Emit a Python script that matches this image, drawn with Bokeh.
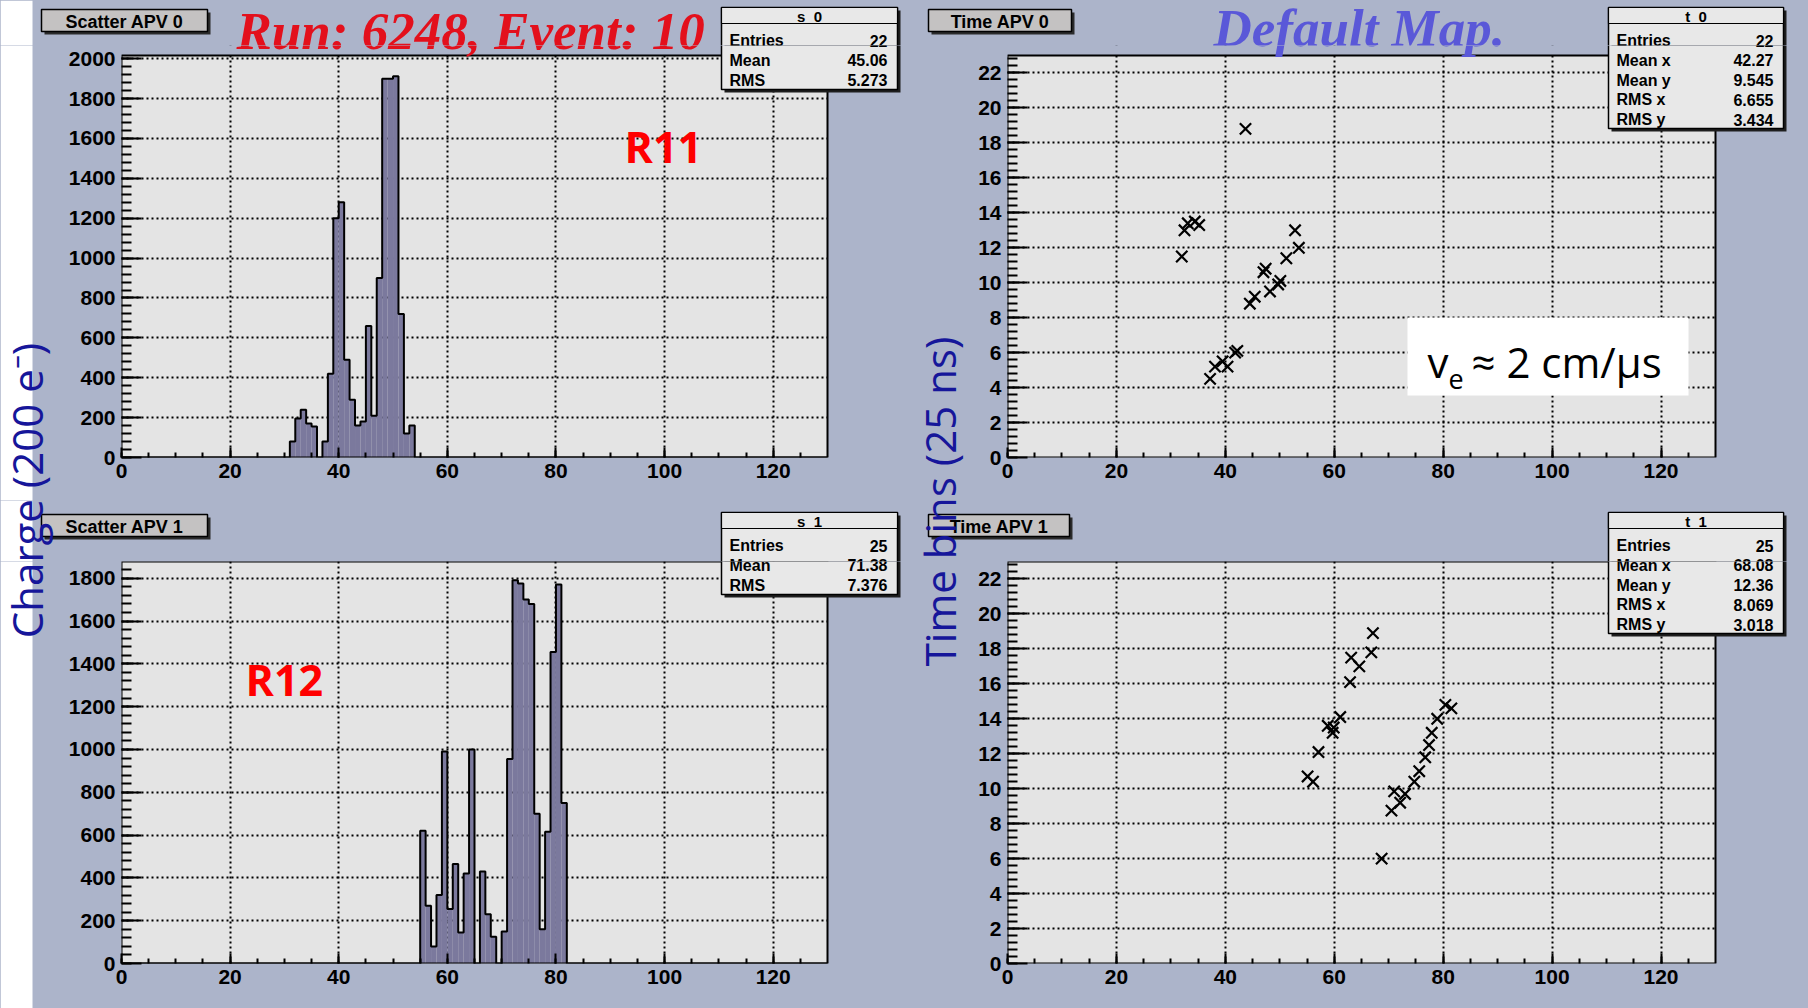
import math
from bokeh.plotting import figure
from bokeh.models import BoxAnnotation, Label, Range1d, FixedTicker
from bokeh.layouts import column, row
from bokeh.embed import file_html
from bokeh.resources import INLINE

# ---------------- data ----------------
s0_channels = [31, 32, 33, 34, 35, 37, 38, 39, 40, 41, 42, 43, 44, 45, 46, 47, 48, 49, 50, 51, 52, 53]
s0_charge = [80, 195, 240, 170, 155, 80, 420, 1200, 1280, 490, 290, 160, 180, 660, 210, 900, 1900, 1900, 1912, 720, 120, 160]

s1_channels = [55, 56, 57, 58, 59, 60, 61, 62, 63, 64, 66, 67, 68, 70, 71, 72, 73, 74, 75, 76, 77, 78, 79, 80, 81]
s1_charge = [620, 270, 80, 320, 990, 255, 465, 145, 420, 1000, 430, 230, 125, 150, 955, 1790, 1775, 1700, 1680, 700, 160, 615, 1455, 1770, 750]

t0_x = [32.0, 32.5, 33.1, 34.4, 35.2, 37.2, 38.1, 39.5, 40.4, 41.8, 42.2, 44.5, 45.4, 47.0, 47.4, 48.2, 49.7, 50.1, 51.2, 52.8, 53.5, 43.7]
t0_y = [11.5, 13.0, 13.4, 13.5, 13.3, 4.5, 5.2, 5.5, 5.2, 6.0, 6.1, 8.8, 9.2, 10.6, 10.8, 9.5, 9.9, 10.1, 11.4, 13.0, 12.0, 18.8]

t1_x = [67.1, 66.8, 63.1, 64.6, 62.9, 61.1, 58.8, 59.9, 59.7, 57.1, 55.1, 56.1, 68.7, 70.5, 71.0, 72.1, 73.0, 74.7, 75.6, 76.7, 77.4, 77.9, 78.9, 80.4, 81.5]
t1_y = [18.9, 17.8, 17.5, 17.0, 16.1, 14.1, 13.6, 13.5, 13.2, 12.1, 10.7, 10.4, 6.0, 8.75, 9.85, 9.2, 9.7, 10.4, 11.0, 11.8, 12.5, 13.2, 14.0, 14.8, 14.6]

n_channels = 130
s0_ymax = 2016
s1_ymax = 1878
time_ymax = 23.0

x_ticks = [0, 20, 40, 60, 80, 100, 120]
s0_y_ticks = [0, 200, 400, 600, 800, 1000, 1200, 1400, 1600, 1800, 2000]
s1_y_ticks = [0, 200, 400, 600, 800, 1000, 1200, 1400, 1600, 1800]
time_y_ticks = [0, 2, 4, 6, 8, 10, 12, 14, 16, 18, 20, 22]

s0_names = ["Entries", "Mean", "RMS"]
s0_values = ["22", "45.06", "5.273"]
s1_names = ["Entries", "Mean", "RMS"]
s1_values = ["25", "71.38", "7.376"]
t0_names = ["Entries", "Mean x", "Mean y", "RMS x", "RMS y"]
t0_values = ["22", "42.27", "9.545", "6.655", "3.434"]
t1_names = ["Entries", "Mean x", "Mean y", "RMS x", "RMS y"]
t1_values = ["25", "68.08", "12.36", "8.069", "3.018"]

# ---------------- style ----------------
PAD_BG = "#acb4ca"
FRAME_BG = "#e4e4e4"
HIST_FILL = "#7b799d"
STAT_BG = "#e8e8e8"
TITLE_BG = "#c4c2c2"
NAVY = "#16169a"
TICK_FONT = "Liberation Sans"

# ---------------- overlay operations (page pixel coordinates) ----------------
OPS = []


def ov_box(x0, y0, x1, y1, fill=None, line=None, lw=0):
    OPS.append(dict(kind="box", x0=x0, y0=y0, x1=x1, y1=y1, fill=fill, line=line, lw=lw,
                    bb=(x0 - lw - 1, y0 - lw - 1, x1 + lw + 1, y1 + lw + 1)))


def ov_text(x, y, text, size, color="black", font=TICK_FONT, style="normal",
            align="left", angle=0.0):
    # y is the vertical middle of the text
    ext = size * (len(text) * 0.7 + 1)
    OPS.append(dict(kind="text", x=x, y=y, text=text, size=size, color=color, font=font,
                    style=style, align=align, angle=angle,
                    bb=(x - ext, y - ext, x + ext, y + ext)))


def ov_text_base(x, y_base, text, size, **kw):
    ov_text(x, y_base - 0.3 * size, text, size, **kw)


def ov_title_box(x0, y0, x1, y1, text):
    ov_box(x0 + 3, y0 + 3, x1 + 3, y1 + 3, "#2b2b2b")
    ov_box(x0, y0, x1, y1, TITLE_BG, "black", 1.5)
    ov_text((x0 + x1) / 2, (y0 + y1) / 2 + 1, text, 18, style="bold", align="center")


def ov_stat_box(x0, y0, x1, y1, title, names, values):
    ov_box(x0 + 3, y0 + 3, x1 + 3, y1 + 3, "#1e1e1e")
    ov_box(x0, y0, x1, y1, STAT_BG, "black", 1.5)
    ov_box(x0, y0, x1, y0 + 16, STAT_BG, "black", 1.2)
    ov_text((x0 + x1) / 2, y0 + 9, title, 15, style="bold", align="center")
    for i, (n, v) in enumerate(zip(names, values)):
        yy = y0 + 33 + i * 19.8
        ov_text(x0 + 8, yy, n, 16, style="bold")
        ov_text(x1 - 10, yy, v, 16, style="bold", align="right")


def apply_ops(p, fl, fb, rect):
    rx0, ry0, rx1, ry1 = rect
    for o in OPS:
        bx0, by0, bx1, by1 = o["bb"]
        if bx1 < rx0 or bx0 > rx1 or by1 < ry0 or by0 > ry1:
            continue
        if o["kind"] == "box":
            p.add_layout(BoxAnnotation(
                left=o["x0"] - fl, right=o["x1"] - fl, top=fb - o["y0"], bottom=fb - o["y1"],
                left_units="screen", right_units="screen", top_units="screen", bottom_units="screen",
                fill_color=o["fill"] or "white", fill_alpha=1.0 if o["fill"] else 0.0,
                line_color=o["line"] or "black", line_alpha=1.0 if o["line"] else 0.0,
                line_width=o["lw"]))
        else:
            p.add_layout(Label(
                x=o["x"] - fl, y=fb - o["y"], x_units="screen", y_units="screen", text=o["text"],
                text_font_size=f'{o["size"]}px', text_color=o["color"], text_font=o["font"],
                text_font_style=o["style"], text_align=o["align"], text_baseline="middle",
                angle=o["angle"]))


# ---------------- figure builders ----------------
ALL = []  # (figure, frame_left, frame_bottom, frame_rect) in page px


def overlay_fig(x0, y0, x1, y1):
    p = figure(width=x1 - x0, height=y1 - y0, min_border=0,
               x_axis_location=None, y_axis_location=None,
               x_range=Range1d(0, 1), y_range=Range1d(0, 1),
               toolbar_location=None, output_backend="svg",
               background_fill_color=PAD_BG, border_fill_color=PAD_BG, outline_line_color=None)
    p.grid.visible = False
    ALL.append((p, x0, y1, (x0, y0, x1, y1)))
    return p


def main_fig(x0, y0, x1, y1, fl, ft_real, fr_real, fb, ymax, y_ticks, y_minor_step, fig_top):
    kx = (fr_real - fl) / n_channels
    ky = (fb - ft_real) / ymax
    p = figure(frame_width=x1 - fl, frame_height=fb - fig_top,
               min_border_left=fl - x0, min_border_right=0,
               min_border_top=fig_top - y0, min_border_bottom=y1 - fb,
               x_range=Range1d(0, (x1 - fl) / kx), y_range=Range1d(0, (fb - fig_top) / ky),
               toolbar_location=None, output_backend="svg",
               background_fill_color=PAD_BG, border_fill_color=PAD_BG, outline_line_color=None)
    x_minor = [v * 5 for v in range(0, 26)]
    y_minor = [v * y_minor_step for v in range(0, int(ymax / y_minor_step) + 1)]
    p.xaxis.ticker = FixedTicker(ticks=x_ticks, minor_ticks=x_minor)
    p.yaxis.ticker = FixedTicker(ticks=y_ticks, minor_ticks=y_minor)
    for ax, tin in ((p.xaxis, 10), (p.yaxis, 20)):
        ax.major_tick_in = tin
        ax.major_tick_out = 0
        ax.minor_tick_in = tin // 2
        ax.minor_tick_out = 0
        ax.major_tick_line_width = 2
        ax.minor_tick_line_width = 2
        ax.axis_line_color = None
        ax.major_tick_line_color = "black"
        ax.minor_tick_line_color = "black"
        ax.major_label_text_font = TICK_FONT
        ax.major_label_text_font_size = "21px"
        ax.major_label_text_font_style = "bold"
        ax.major_label_text_color = "black"
        ax.major_label_standoff = 6
    for gr in (p.xgrid, p.ygrid):
        gr.grid_line_color = "black"
        gr.grid_line_dash = "2 3"
        gr.grid_line_width = 2
    # real frame fill (below grid)
    p.add_layout(BoxAnnotation(left=0, right=n_channels, bottom=0, top=ymax, level="image",
                               fill_color=FRAME_BG, fill_alpha=1.0, line_alpha=0.0))
    # hide grid outside the real frame
    W, H = x1 - fl, fb - fig_top
    rw, rh = fr_real - fl, fb - ft_real
    for (l, r, b, t) in ((0, W, rh, H), (rw, W, 0, H)):
        if r > l and t > b:
            p.add_layout(BoxAnnotation(left=l, right=r, bottom=b, top=t, level="underlay",
                                       left_units="screen", right_units="screen",
                                       top_units="screen", bottom_units="screen",
                                       fill_color=PAD_BG, fill_alpha=1.0, line_alpha=0.0))
    ALL.append((p, fl, fb, (fl, fig_top, x1, fb)))
    return p


def frame_outline(p, ymax):
    p.add_layout(BoxAnnotation(left=0, right=n_channels, bottom=0, top=ymax,
                               fill_alpha=0.0, line_color="black", line_width=2, line_alpha=1.0))


def draw_hist(p, channels, charge, ymax):
    p.quad(left=channels, right=[c + 1 for c in channels], bottom=0, top=charge,
           fill_color=HIST_FILL, line_color=None)
    counts = dict(zip(channels, charge))
    xs = list(range(n_channels + 1))
    ys = [counts.get(c, 0) for c in xs]
    p.step(xs, ys, mode="after", line_color="black", line_width=2)
    frame_outline(p, ymax)


# left column (x 0..902)
header_L = overlay_fig(0, 0, 902, 45)
strip_Lt = overlay_fig(0, 45, 61, 500)
tl = main_fig(61, 45, 902, 500, 121, 55, 827, 457, s0_ymax, s0_y_ticks, 40, 45)
header_bl = overlay_fig(0, 500, 902, 561)
strip_Lb = overlay_fig(0, 561, 61, 1008)
bl = main_fig(61, 561, 902, 1008, 121, 561, 827, 963, s1_ymax, s1_y_ticks, 40, 561)
# right column (x 902..1808)
header_R = overlay_fig(902, 0, 1808, 45)
strip_Rt = overlay_fig(902, 45, 966, 500)
tr = main_fig(966, 45, 1808, 500, 1007, 55, 1715, 457, time_ymax, time_y_ticks, 0.4, 45)
header_br = overlay_fig(902, 500, 1808, 561)
strip_Rb = overlay_fig(902, 561, 966, 1008)
br = main_fig(966, 561, 1808, 1008, 1007, 561, 1715, 963, time_ymax, time_y_ticks, 0.4, 561)

draw_hist(tl, s0_channels, s0_charge, s0_ymax)
draw_hist(bl, s1_channels, s1_charge, s1_ymax)
for p, xs, ys in ((tr, t0_x, t0_y), (br, t1_x, t1_y)):
    p.scatter(xs, ys, marker="x", size=16, line_color="black", line_width=2.2)
    frame_outline(p, time_ymax)

# ---------------- overlay content ----------------
ov_box(0, 0, 32, 1008, "white")

ov_title_box(41, 9, 207, 31, "Scatter APV 0")
ov_title_box(41, 514, 207, 536, "Scatter APV 1")
ov_title_box(928, 9, 1071, 31, "Time APV 0")
ov_title_box(928, 514, 1069, 536, "Time APV 1")

ov_stat_box(721, 7, 897, 89, "s_0", s0_names, s0_values)
ov_stat_box(721, 512, 897, 594, "s_1", s1_names, s1_values)
ov_stat_box(1608, 7, 1783, 128, "t_0", t0_names, t0_values)
ov_stat_box(1608, 512, 1783, 633, "t_1", t1_names, t1_values)

ov_text_base(236, 46, "Run: 6248, Event: 10", 53, color="#e3101c", font="Liberation Serif", style="bold italic")
ov_text_base(1213, 43, "Default Map.", 53, color="#5a58d8", font="Liberation Serif", style="bold italic")
ov_text_base(624, 159, "R11", 43, color="#ff0000", font="Open Sans", style="bold")
ov_text_base(245, 692, "R12", 43, color="#ff0000", font="Open Sans", style="bold")

ov_box(1407, 317, 1688, 395, "white")
ov_text_base(1427, 374, "v", 42, font="Open Sans")
ov_text_base(1448, 387, "e", 27, font="Open Sans")
ov_text_base(1471, 374, "\u2248 2 cm/\u00b5s", 42, font="Open Sans")

ov_text(26, 490, "Charge (200 e\u207b)", 42, color=NAVY, font="Open Sans",
        align="center", angle=math.pi / 2)
ov_text(939, 501, "Time bins (25 ns)", 42, color=NAVY, font="Open Sans",
        align="center", angle=math.pi / 2)

for p, fl, fb, rect in ALL:
    apply_ops(p, fl, fb, rect)

layout = row(
    column(header_L, row(strip_Lt, column(tl)), header_bl, row(strip_Lb, column(bl))),
    column(header_R, row(strip_Rt, column(tr)), header_br, row(strip_Rb, column(br))),
    styles={"background-color": PAD_BG},
)
open("out.html", "w").write(file_html(layout, INLINE))
